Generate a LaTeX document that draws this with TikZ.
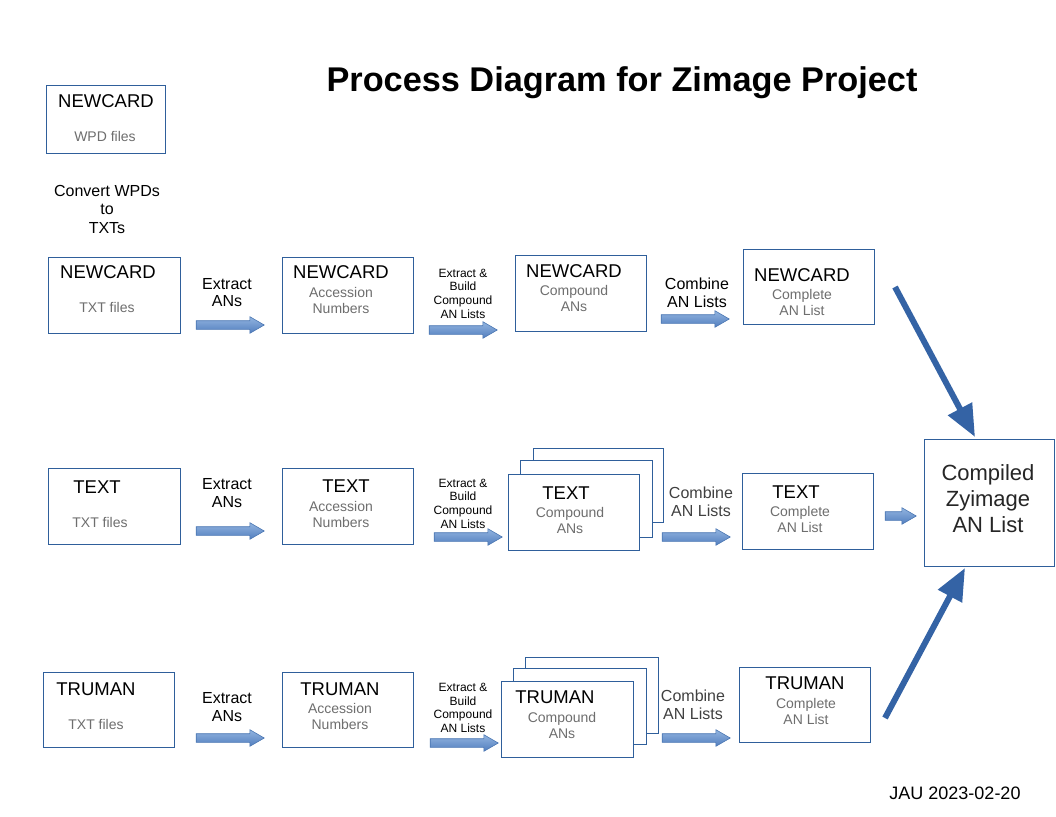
\documentclass[tikz,border=0pt]{standalone}
\usepackage{fontspec}
\setmainfont{Liberation Sans}
\usetikzlibrary{shapes.arrows,arrows.meta}
\definecolor{boxline}{RGB}{47,95,155}
\definecolor{subgray}{RGB}{110,110,110}
\definecolor{arrowtop}{RGB}{146,180,224}
\definecolor{arrowbot}{RGB}{82,126,190}
\definecolor{arrowline}{RGB}{74,118,178}
\definecolor{bigblue}{RGB}{52,99,165}
\newcommand{\hdsize}{\fontsize{18.5}{20}\selectfont}
\newcommand{\subsize}{\fontsize{14}{16}\selectfont}
\newcommand{\lblsize}{\fontsize{16}{17.5}\selectfont}
\newcommand{\smlsize}{\fontsize{12}{13.7}\selectfont}
\begin{document}
\begin{tikzpicture}[x=1pt,y=-1pt,
  box/.style={draw=boxline, line width=0.9pt, fill=white, minimum width=131, minimum height=76, inner sep=0},
  head/.style={inner sep=0, font=\hdsize},
  sub/.style={inner sep=0, align=center, text=subgray, font=\subsize},
  lbl/.style={inner sep=0, align=center, font=\lblsize},
  sml/.style={inner sep=0, align=center, font=\smlsize},
  blockarr/.style={single arrow, draw=arrowline, top color=arrowtop, bottom color=arrowbot, minimum height=68, inner sep=4pt, single arrow head extend=4pt, single arrow tip angle=60, single arrow head indent=0pt, line width=0.6pt},
  bigarr/.style={draw=bigblue, line width=6pt, -{Triangle[length=32pt,width=26pt]}}]
\useasboundingbox (0,0) rectangle (1056,816);
% title
\node[inner sep=0, font=\fontsize{34.3}{38}\selectfont\bfseries] (title) at (622,83) {Process Diagram for Zimage Project};
\node[inner sep=0, font=\fontsize{18}{20}\selectfont] (stamp) at (955,793) {JAU 2023-02-20};
% WPD source
\node[box, minimum width=119, minimum height=68] (wpd) at (105.5,119) {};
\node[head] (wpdH) at (106,101) {NEWCARD};
\node[sub] (wpdS) at (105,136) {WPD files};
\node[inner sep=0, align=center, font=\fontsize{16}{18.5}\selectfont] (conv) at (107,209) {Convert WPDs\\to\\TXTs};
% NEWCARD row
\node[box, minimum width=132] (ncTxt) at (114,295) {};
\node[head] (ncTxtH) at (108,272) {NEWCARD};
\node[sub] (ncTxtS) at (107,307) {TXT files};
\node[lbl] (ncExL) at (227,292.5) {Extract\\ANs};
\node[blockarr] (ncEx) at (226.5,325) {};
\node[box] (ncAcc) at (347.5,295) {};
\node[head] (ncAccH) at (341,272) {NEWCARD};
\node[sub] (ncAccS) at (341,300) {Accession\\Numbers};
\node[sml] (ncBdL) at (463,293.5) {Extract \&\\Build\\Compound\\AN Lists};
\node[blockarr] (ncBd) at (459.5,330) {};
\node[box] (ncCmp) at (580.5,293) {};
\node[head] (ncCmpH) at (574,271) {NEWCARD};
\node[sub] (ncCmpS) at (574,298) {Compound\\ANs};
\node[lbl] (ncCbL) at (697,293) {Combine\\AN Lists};
\node[blockarr] (ncCb) at (691.5,319) {};
\node[box, minimum height=75] (ncAll) at (808.5,286.5) {};
\node[head] (ncAllH) at (802,275) {NEWCARD};
\node[sub] (ncAllS) at (802,302) {Complete\\AN List};
% TEXT row
\node[box, minimum width=132] (txTxt) at (114,506) {};
\node[head] (txTxtH) at (97,487) {TEXT};
\node[sub] (txTxtS) at (100,522) {TXT files};
\node[lbl] (txExL) at (227,493) {Extract\\ANs};
\node[blockarr] (txEx) at (226.5,531) {};
\node[box] (txAcc) at (347.5,506) {};
\node[head] (txAccH) at (346,486) {TEXT};
\node[sub] (txAccS) at (341,514) {Accession\\Numbers};
\node[sml] (txBdL) at (463,503.5) {Extract \&\\Build\\Compound\\AN Lists};
\node[blockarr] (txBd) at (464.5,537) {};
\node[box, minimum width=130, minimum height=74] (txCmp3) at (598,485) {};
\node[box, minimum width=132, minimum height=77] (txCmp2) at (586,498.5) {};
\node[box] (txCmp) at (573.5,512) {};
\node[head] (txCmpH) at (566,493) {TEXT};
\node[sub] (txCmpS) at (570,520) {Compound\\ANs};
\node[lbl, text=black!75] (txCbL) at (701,502) {Combine\\AN Lists};
\node[blockarr] (txCb) at (692.5,537) {};
\node[box] (txAll) at (807.5,511) {};
\node[head] (txAllH) at (796,492) {TEXT};
\node[sub] (txAllS) at (800,519) {Complete\\AN List};
\node[blockarr, minimum height=31] (txOut) at (897,516) {};
% compiled list
\node[box, minimum width=130, minimum height=127] (cmp) at (989,502.5) {};
\node[inner sep=0, align=center, text=black!85, font=\fontsize{22}{26}\selectfont] (cmpT) at (988,499) {Compiled\\Zyimage\\ AN List};
% TRUMAN row
\node[box, minimum height=75] (trTxt) at (108.5,709.5) {};
\node[head] (trTxtH) at (96,689) {TRUMAN};
\node[sub] (trTxtS) at (96,724) {TXT files};
\node[lbl] (trExL) at (227,707) {Extract\\ANs};
\node[blockarr] (trEx) at (226.5,738) {};
\node[box, minimum height=75] (trAcc) at (347.5,709.5) {};
\node[head] (trAccH) at (340,689) {TRUMAN};
\node[sub] (trAccS) at (340,716) {Accession\\Numbers};
\node[sml] (trBdL) at (463,708) {Extract \&\\Build\\Compound\\AN Lists};
\node[blockarr] (trBd) at (460.5,743) {};
\node[box, minimum width=133] (trCmp3) at (591.5,695) {};
\node[box, minimum width=133] (trCmp2) at (579.5,706) {};
\node[box, minimum width=132] (trCmp) at (567,719) {};
\node[head] (trCmpH) at (555,697) {TRUMAN};
\node[sub] (trCmpS) at (562,725) {Compound\\ANs};
\node[lbl, text=black!75] (trCbL) at (693,705) {Combine\\AN Lists};
\node[blockarr] (trCb) at (692.5,738) {};
\node[box, minimum height=75] (trAll) at (804.5,704.5) {};
\node[head] (trAllH) at (805,683) {TRUMAN};
\node[sub] (trAllS) at (806,711) {Complete\\AN List};
% big arrows into the compiled list
\coordinate (ncOut) at (895,287);
\coordinate (cmpInA) at (975,437);
\coordinate (trOut) at (885,718);
\coordinate (cmpInB) at (965,568);
\draw[bigarr] (ncOut) -- (cmpInA);
\draw[bigarr] (trOut) -- (cmpInB);
\end{tikzpicture}
\end{document}
